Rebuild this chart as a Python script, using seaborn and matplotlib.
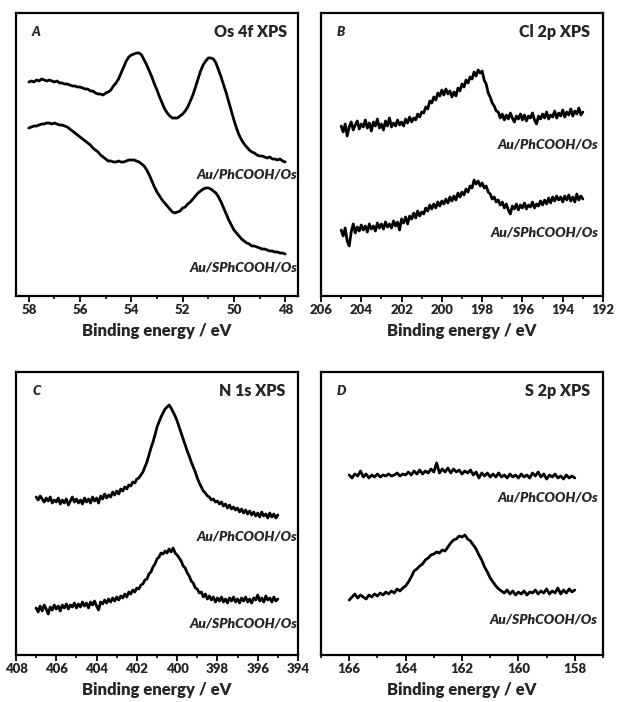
import numpy as np
import pandas as pd
import matplotlib
matplotlib.use("Agg")
import matplotlib.pyplot as plt
from matplotlib.ticker import MultipleLocator
import seaborn as sns

sns.set_theme(style="white")
plt.rcParams['font.family'] = ['Lato', 'DejaVu Sans']
plt.rcParams['font.weight'] = 'heavy'

# ---------------- data (intensity in arbitrary units) ----------------
energy_A = np.round(np.linspace(58.0, 48.0, 101), 2)
os_ph = [214, 215, 214, 216, 215, 217, 216, 215, 216, 215,
         214, 215, 213, 213, 212, 212, 211, 210, 210, 209,
         209, 208, 207, 207, 205, 205, 203, 202, 202, 201,
         203, 204, 206, 210, 213, 217, 223, 229, 235, 239,
         241, 242, 243, 243, 241, 236, 231, 225, 219, 212,
         206, 199, 193, 187, 183, 180, 178, 178, 178, 180,
         182, 185, 189, 195, 201, 209, 217, 225, 231, 235,
         238, 238, 237, 233, 226, 219, 211, 203, 194, 185,
         176, 168, 161, 156, 152, 149, 146, 144, 143, 141,
         140, 140, 139, 138, 139, 137, 137, 136, 137, 135,
         134]
os_sph = [168, 169, 170, 170, 171, 172, 172, 173, 173, 172,
          173, 172, 171, 171, 170, 169, 167, 165, 163, 161,
          159, 157, 155, 153, 151, 148, 146, 144, 141, 139,
          137, 135, 135, 134, 134, 135, 134, 134, 135, 136,
          136, 136, 135, 134, 132, 130, 126, 121, 115, 109,
          104, 100, 96, 93, 90, 87, 84, 83, 84, 85,
          88, 89, 92, 94, 97, 100, 103, 105, 107, 108,
          108, 107, 105, 103, 99, 94, 88, 82, 76, 71,
          66, 63, 60, 57, 55, 53, 52, 50, 50, 49,
          48, 47, 47, 46, 45, 45, 44, 44, 43, 43,
          42]

energy_B = np.round(np.linspace(205.0, 193.0, 121), 2)
cl_ph = [170, 164, 172, 160, 169, 174, 166, 171, 175, 167,
         172, 169, 176, 168, 173, 165, 174, 170, 177, 168,
         172, 166, 175, 170, 178, 169, 173, 170, 176, 171,
         174, 170, 177, 173, 179, 174, 178, 176, 182, 179,
         184, 183, 189, 187, 195, 193, 199, 196, 203, 200,
         206, 201, 207, 202, 205, 199, 204, 200, 208, 205,
         212, 209, 216, 213, 219, 217, 224, 220, 226, 223,
         225, 216, 212, 203, 199, 193, 190, 185, 184, 178,
         182, 176, 181, 177, 183, 178, 174, 180, 177, 182,
         176, 181, 175, 180, 178, 183, 176, 172, 180, 177,
         182, 178, 184, 177, 181, 179, 185, 178, 183, 180,
         186, 179, 184, 181, 187, 180, 185, 182, 188, 181,
         184]
cl_sph = [66, 60, 68, 55, 50, 64, 72, 63, 69, 65,
          71, 66, 70, 64, 72, 67, 70, 65, 73, 68,
          72, 67, 74, 69, 72, 68, 75, 70, 74, 66,
          77, 73, 79, 72, 80, 77, 83, 78, 85, 80,
          84, 82, 88, 85, 91, 87, 92, 88, 94, 90,
          95, 92, 97, 93, 99, 95, 100, 96, 103, 99,
          104, 101, 107, 104, 110, 108, 116, 112, 115, 110,
          113, 108, 110, 104, 102, 97, 99, 94, 96, 91,
          94, 88, 92, 86, 82, 90, 87, 92, 86, 91,
          88, 93, 87, 91, 89, 94, 88, 92, 90, 95,
          91, 96, 92, 98, 93, 99, 95, 100, 96, 99,
          94, 100, 96, 101, 95, 99, 94, 102, 96, 100,
          97]

energy_C = np.round(np.linspace(407.0, 395.0, 121), 2)
n_ph = [158, 155, 159, 156, 153, 157, 154, 158, 152, 155,
        153, 157, 151, 155, 152, 156, 150, 154, 158, 153,
        156, 152, 155, 151, 157, 153, 156, 152, 158, 154,
        157, 152, 159, 156, 161, 157, 160, 158, 163, 160,
        164, 161, 166, 164, 168, 166, 170, 169, 173, 172,
        176, 177, 180, 183, 188, 193, 200, 207, 213, 220,
        228, 233, 238, 242, 246, 248, 250, 247, 243, 239,
        234, 228, 222, 216, 210, 204, 199, 193, 188, 183,
        177, 172, 168, 164, 162, 159, 158, 155, 156, 153,
        154, 151, 153, 149, 151, 147, 150, 146, 148, 145,
        147, 143, 146, 142, 145, 141, 144, 140, 143, 139,
        142, 138, 143, 139, 141, 137, 142, 138, 141, 137,
        140]
n_sph = [47, 43, 49, 44, 50, 46, 41, 48, 45, 50,
         46, 49, 44, 50, 47, 51, 46, 50, 48, 52,
         47, 51, 48, 53, 49, 52, 47, 53, 50, 54,
         49, 45, 53, 51, 55, 52, 56, 53, 57, 54,
         58, 55, 59, 57, 61, 58, 63, 61, 65, 63,
         67, 66, 70, 71, 75, 76, 81, 83, 88, 91,
         96, 98, 102, 101, 104, 102, 106, 103, 107, 102,
         100, 97, 94, 89, 87, 82, 79, 74, 72, 67,
         66, 62, 63, 58, 61, 56, 59, 55, 58, 53,
         57, 54, 58, 53, 56, 52, 57, 54, 58, 53,
         56, 52, 57, 54, 58, 53, 56, 52, 57, 55,
         60, 54, 57, 53, 59, 55, 57, 53, 58, 54,
         56]

energy_D = np.round(np.linspace(166.0, 158.0, 81), 2)
s_ph = [180, 177, 181, 179, 184, 178, 181, 177, 180, 178,
        181, 178, 180, 179, 181, 179, 180, 182, 179, 181,
        180, 183, 180, 184, 181, 185, 181, 184, 182, 186,
        183, 192, 182, 186, 183, 187, 182, 186, 183, 185,
        181, 184, 182, 185, 180, 183, 177, 182, 179, 182,
        178, 181, 178, 182, 178, 180, 177, 181, 178, 180,
        177, 181, 178, 180, 177, 182, 179, 183, 178, 181,
        176, 180, 178, 181, 177, 179, 176, 180, 177, 179,
        177]
s_sph = [55, 58, 61, 57, 60, 58, 56, 60, 58, 61,
         59, 62, 60, 63, 61, 64, 62, 66, 64, 67,
         69, 73, 78, 84, 86, 89, 91, 95, 97, 100,
         101, 103, 102, 105, 104, 108, 112, 115, 116, 119,
         118, 120, 116, 114, 110, 106, 100, 95, 88, 83,
         77, 73, 69, 66, 64, 62, 65, 61, 64, 60,
         63, 61, 64, 60, 63, 62, 65, 61, 64, 62,
         66, 61, 64, 62, 67, 61, 65, 62, 66, 63,
         65]

sample_labels = ["Au/PhCOOH/Os", "Au/SPhCOOH/Os"]
panel_letters = ["A", "B", "C", "D"]
panel_titles = ["Os 4f XPS", "Cl 2p XPS", "N 1s XPS", "S 2p XPS"]
x_label = "Binding energy / eV"

panels = [
    dict(x=energy_A, ys=[os_ph, os_sph], xlim=(58.5, 47.5),
         lab_y=[0.431, 0.102], lab_x=0.999, ttl_x=0.961),
    dict(x=energy_B, ys=[cl_ph, cl_sph], xlim=(206, 192),
         lab_y=[0.537, 0.223], lab_x=0.984, ttl_x=0.955),
    dict(x=energy_C, ys=[n_ph, n_sph], xlim=(408, 394),
         lab_y=[0.420, 0.110], lab_x=0.999, ttl_x=0.955),
    dict(x=energy_D, ys=[s_ph, s_sph], xlim=(167, 157),
         lab_y=[0.558, 0.124], lab_x=0.982, ttl_x=0.955),
]

W, H = 617, 702
fig = plt.figure(figsize=(W / 100, H / 100), dpi=100)
boxes_px = [(16, 13), (321, 13), (16, 372), (321, 372)]
bw, bh = 282, 283

for i, (p, (lx, ty)) in enumerate(zip(panels, boxes_px)):
    ax = fig.add_axes([lx / W, 1 - (ty + bh) / H, bw / W, bh / H])
    frames = []
    for lab, y in zip(sample_labels, p["ys"]):
        frames.append(pd.DataFrame({"energy": p["x"], "intensity": y, "sample": lab}))
    df = pd.concat(frames, ignore_index=True)
    sns.lineplot(data=df, x="energy", y="intensity", hue="sample",
                 palette=["black", "black"], estimator=None, sort=False,
                 linewidth=2.0, legend=False, ax=ax)
    ax.set_xlim(*p["xlim"])
    ax.set_ylim(0, 283)
    ax.set_yticks([])
    ax.set_ylabel("")
    ax.xaxis.set_major_locator(MultipleLocator(2))
    ax.xaxis.set_minor_locator(MultipleLocator(1))
    ax.tick_params(axis="x", which="major", direction="out", length=4, width=1.3,
                   labelsize=9.5, pad=2, bottom=True, color="black")
    ax.tick_params(axis="x", which="minor", direction="out", length=2.5, width=1.2,
                   bottom=True, color="black")
    for lbl in ax.get_xticklabels():
        lbl.set_fontweight("heavy")
    for s in ax.spines.values():
        s.set_linewidth(1.6)
        s.set_color("black")
    ax.set_xlabel(x_label, fontsize=12, fontweight="heavy", labelpad=5)
    ax.text(0.057, 0.933, panel_letters[i], transform=ax.transAxes,
            fontsize=9.5, fontweight="heavy", style="italic", ha="left", va="center")
    ax.text(p["ttl_x"], 0.933, panel_titles[i], transform=ax.transAxes,
            fontsize=11.5, fontweight="heavy", ha="right", va="center")
    for lab, yy in zip(sample_labels, p["lab_y"]):
        ax.text(p["lab_x"], yy, lab, transform=ax.transAxes, fontsize=10,
                fontweight="heavy", style="italic", ha="right", va="center")

fig.savefig("out.png", dpi=100, facecolor="white")
